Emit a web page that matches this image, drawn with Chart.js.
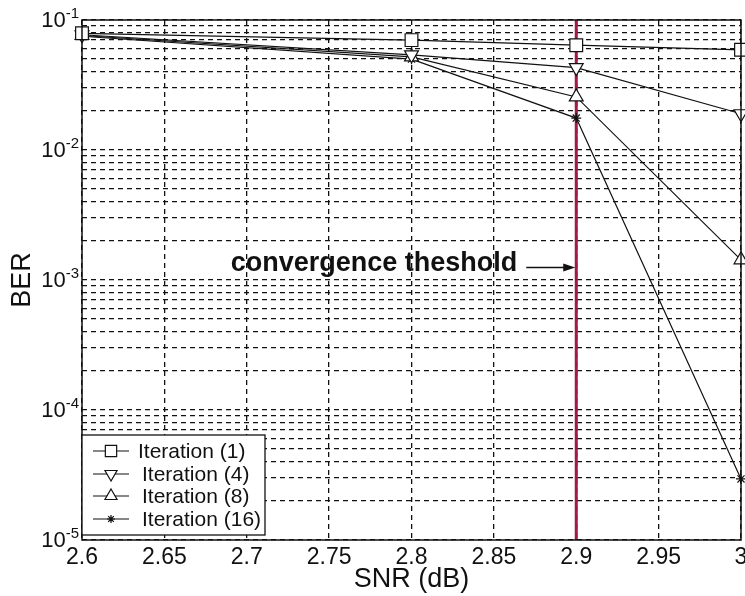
<!DOCTYPE html>
<html>
<head>
<meta charset="utf-8">
<script src="https://cdn.jsdelivr.net/npm/chart.js@4.4.0/dist/chart.umd.min.js"></script>
<style>
  html, body { margin: 0; padding: 0; background: #fff; }
</style>
</head>
<body>
<canvas id="berChart" width="745" height="596"></canvas>
<script>
// values
const snrDb = [2.6, 2.8, 2.9, 3.0];
const berIter1 = [0.079, 0.070, 0.064, 0.059];
const berIter4 = [0.077, 0.054, 0.043, 0.019];
const berIter8 = [0.076, 0.052, 0.0256, 0.00143];
const berIter16 = [0.075, 0.050, 0.0176, 0.0000295];
const seriesLabels = ['Iteration (1)', 'Iteration (4)', 'Iteration (8)', 'Iteration (16)'];

const thresholdSnr = 2.9;
const thresholdBer = [1e-5, 1e-1];
const thresholdText = 'convergence theshold';
const thresholdTextBer = 1.25e-3;

const snrTicks = [2.6, 2.65, 2.7, 2.75, 2.8, 2.85, 2.9, 2.95, 3];
const berDecades = [1e-5, 1e-4, 1e-3, 1e-2, 1e-1];
const berMantissas = [1, 2, 3, 4, 5, 6, 7, 8, 9];

const FONT = '"Liberation Sans", Arial, Helvetica, sans-serif';

const berGrid = [];
berDecades.forEach(d => {
    berMantissas.forEach(m => {
        const v = m * d;
        if (v <= berDecades[berDecades.length - 1] * 1.0001) berGrid.push(v);
    });
});

function series(label, values, style, rotation, radius) {
    return {
        label: label,
        data: snrDb.map((x, i) => ({ x: x, y: values[i] })),
        borderColor: '#111',
        borderWidth: 1.2,
        backgroundColor: '#fff',
        pointStyle: style,
        pointRotation: rotation,
        pointRadius: radius,
        pointBorderColor: '#111',
        pointBackgroundColor: '#fff',
        pointBorderWidth: 1.2,
        tension: 0,
        clip: false
    };
}

const datasets = [
    series(seriesLabels[0], berIter1, 'rect', 0, 9),
    series(seriesLabels[1], berIter4, 'triangle', 180, 8),
    series(seriesLabels[2], berIter8, 'triangle', 0, 8),
    series(seriesLabels[3], berIter16, 'star', 0, 5),
    {
        label: 'threshold',
        data: thresholdBer.map(y => ({ x: thresholdSnr, y: y })),
        borderColor: '#a3174a',
        borderWidth: 3,
        pointRadius: 0,
        clip: false
    }
];

const decorPlugin = {
    id: 'decor',
    afterDatasetsDraw(chart) {
        const ctx = chart.ctx;
        const area = chart.chartArea;
        const xs = chart.scales.x;
        const ys = chart.scales.y;
        ctx.save();

        // axes box
        ctx.strokeStyle = '#111';
        ctx.lineWidth = 1.5;
        ctx.setLineDash([]);
        ctx.strokeRect(area.left, area.top, area.right - area.left, area.bottom - area.top);

        // x tick labels
        ctx.fillStyle = '#111';
        ctx.font = '23px ' + FONT;
        ctx.textAlign = 'center';
        ctx.textBaseline = 'top';
        snrTicks.forEach(v => {
            ctx.fillText(String(v), xs.getPixelForValue(v), area.bottom + 6);
        });

        // y tick labels as 10^n
        berDecades.forEach(v => {
            const y = ys.getPixelForValue(v);
            const exp = String(Math.round(Math.log10(v)));
            ctx.font = '15px ' + FONT;
            const ew = ctx.measureText(exp).width;
            const ex = area.left - 3 - ew;
            ctx.textAlign = 'left';
            ctx.textBaseline = 'alphabetic';
            ctx.fillText(exp, ex, y - 2);
            ctx.font = '22px ' + FONT;
            ctx.textAlign = 'right';
            ctx.fillText('10', ex, y + 7);
        });

        // legend
        const lx = area.left, ly = 435, lw = 183, lh = 100;
        ctx.fillStyle = '#fff';
        ctx.fillRect(lx, ly, lw, lh);
        ctx.strokeStyle = '#111';
        ctx.lineWidth = 1.3;
        ctx.strokeRect(lx, ly, lw, lh);
        const rows = [451, 474, 496, 519];
        chart.data.datasets.slice(0, 4).forEach((ds, i) => {
            const cy = rows[i];
            ctx.strokeStyle = '#111';
            ctx.lineWidth = 1.2;
            ctx.beginPath();
            ctx.moveTo(lx + 11, cy);
            ctx.lineTo(lx + 47, cy);
            ctx.stroke();
            ctx.fillStyle = '#fff';
            Chart.helpers.drawPoint(ctx, {
                pointStyle: ds.pointStyle,
                rotation: ds.pointRotation,
                radius: ds.pointRadius - 1,
                borderWidth: 1.2
            }, lx + 29, cy);
            ctx.fillStyle = '#111';
            ctx.font = '21px ' + FONT;
            ctx.textAlign = 'left';
            ctx.textBaseline = 'middle';
            ctx.fillText(ds.label, lx + (i === 0 ? 56 : 60), cy + 1);
        });

        // threshold annotation
        const tx = xs.getPixelForValue(thresholdSnr);
        const ty = ys.getPixelForValue(thresholdTextBer);
        const a0 = tx - 50;
        ctx.strokeStyle = '#111';
        ctx.lineWidth = 1.5;
        ctx.beginPath();
        ctx.moveTo(a0, ty);
        ctx.lineTo(tx - 8, ty);
        ctx.stroke();
        ctx.fillStyle = '#111';
        ctx.beginPath();
        ctx.moveTo(tx - 1, ty);
        ctx.lineTo(tx - 13, ty - 4);
        ctx.lineTo(tx - 13, ty + 4);
        ctx.closePath();
        ctx.fill();
        ctx.font = 'bold 27px ' + FONT;
        ctx.textAlign = 'right';
        ctx.textBaseline = 'alphabetic';
        ctx.fillText(thresholdText, a0 - 9, ty + 4);

        ctx.restore();
    }
};

new Chart(document.getElementById('berChart'), {
    type: 'line',
    data: { datasets: datasets },
    options: {
        responsive: false,
        animation: false,
        layout: { autoPadding: false, padding: { top: 20, right: 4, left: 0, bottom: 0 } },
        plugins: {
            legend: { display: false },
            tooltip: { enabled: false }
        },
        scales: {
            x: {
                type: 'linear',
                min: 2.6,
                max: 3,
                afterBuildTicks: s => { s.ticks = snrTicks.map(v => ({ value: v })); },
                afterFit: s => { s.height = 56; },
                ticks: { display: false, autoSkip: false },
                grid: { color: '#111', lineWidth: 1.3, drawTicks: false },
                border: { display: false, dash: [5, 4] },
                title: {
                    display: true,
                    text: 'SNR (dB)',
                    color: '#111',
                    font: { family: FONT, size: 27 },
                    padding: { top: 0, bottom: 0 }
                }
            },
            y: {
                type: 'logarithmic',
                min: 1e-5,
                max: 1e-1,
                afterBuildTicks: s => { s.ticks = berGrid.map(v => ({ value: v })); },
                afterFit: s => { s.width = 82; },
                ticks: { display: false, autoSkip: false },
                grid: { color: '#111', lineWidth: 1.3, drawTicks: false },
                border: { display: false, dash: [5, 4] },
                title: {
                    display: true,
                    text: 'BER',
                    color: '#111',
                    font: { family: FONT, size: 27 },
                    padding: { top: 6, bottom: 0 }
                }
            }
        }
    },
    plugins: [decorPlugin]
});
</script>
</body>
</html>
